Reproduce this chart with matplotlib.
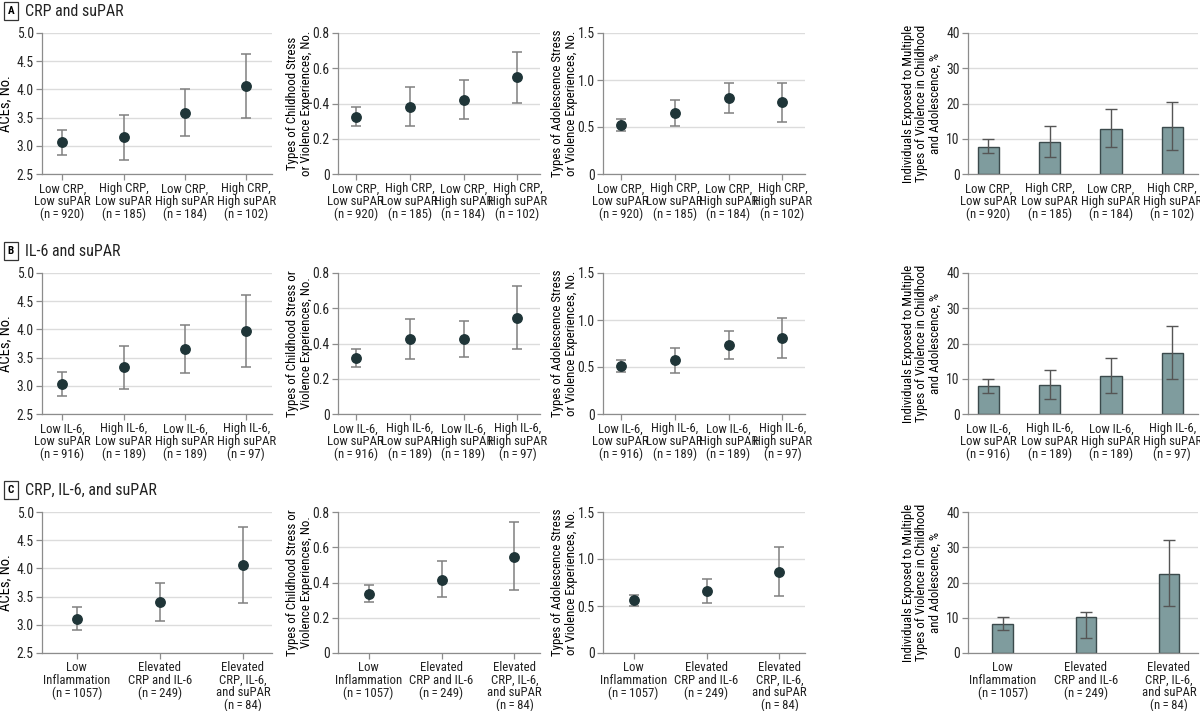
import matplotlib
matplotlib.use('Agg')
import matplotlib.pyplot as plt
from matplotlib import font_manager

# pick a narrow face if one is installed
names = {f.name for f in font_manager.fontManager.ttflist}
family = 'Liberation Sans'
for cand in ['Liberation Sans Narrow', 'DejaVu Sans Condensed', 'Roboto Condensed',
             'Open Sans Condensed', 'Noto Sans Condensed']:
    if cand in names:
        family = cand
        break
plt.rcParams['font.family'] = [family, 'DejaVu Sans']
NARROW = family != 'Liberation Sans'

# group labels
labels_a = ['Low CRP,\nLow suPAR\n(n\u2009=\u2009920)', 'High CRP,\nLow suPAR\n(n\u2009=\u2009185)',
            'Low CRP,\nHigh suPAR\n(n\u2009=\u2009184)', 'High CRP,\nHigh suPAR\n(n\u2009=\u2009102)']
labels_b = ['Low IL-6,\nLow suPAR\n(n\u2009=\u2009916)', 'High IL-6,\nLow suPAR\n(n\u2009=\u2009189)',
            'Low IL-6,\nHigh suPAR\n(n\u2009=\u2009189)', 'High IL-6,\nHigh suPAR\n(n\u2009=\u200997)']
labels_c = ['Low\nInflammation\n(n\u2009=\u20091057)', 'Elevated\nCRP and IL-6\n(n\u2009=\u2009249)',
            'Elevated\nCRP, IL-6,\nand suPAR\n(n\u2009=\u200984)']

# ACEs, No.
aces_a = [3.06, 3.15, 3.59, 4.06]
aces_a_lo = [2.84, 2.74, 3.17, 3.49]
aces_a_hi = [3.28, 3.55, 4.01, 4.62]
aces_b = [3.03, 3.33, 3.66, 3.97]
aces_b_lo = [2.82, 2.95, 3.22, 3.33]
aces_b_hi = [3.24, 3.71, 4.08, 4.61]
aces_c = [3.11, 3.40, 4.06]
aces_c_lo = [2.91, 3.06, 3.39]
aces_c_hi = [3.32, 3.74, 4.73]

# childhood stress types
child_a = [0.325, 0.382, 0.422, 0.548]
child_a_lo = [0.272, 0.272, 0.314, 0.403]
child_a_hi = [0.378, 0.494, 0.533, 0.694]
child_b = [0.318, 0.427, 0.427, 0.545]
child_b_lo = [0.269, 0.314, 0.323, 0.369]
child_b_hi = [0.367, 0.541, 0.530, 0.724]
child_c = [0.335, 0.416, 0.547]
child_c_lo = [0.289, 0.318, 0.356]
child_c_hi = [0.384, 0.520, 0.741]

# adolescence stress types
adol_a = [0.521, 0.652, 0.809, 0.766]
adol_a_lo = [0.457, 0.511, 0.649, 0.557]
adol_a_hi = [0.585, 0.787, 0.972, 0.972]
adol_b = [0.511, 0.574, 0.730, 0.809]
adol_b_lo = [0.450, 0.440, 0.589, 0.599]
adol_b_hi = [0.571, 0.706, 0.883, 1.025]
adol_c = [0.560, 0.663, 0.865]
adol_c_lo = [0.496, 0.532, 0.603]
adol_c_hi = [0.621, 0.791, 1.131]

# % exposed to multiple types of violence
viol_a = [7.75, 8.98, 12.86, 13.4]
viol_a_lo = [5.96, 4.73, 7.75, 6.9]
viol_a_hi = [9.93, 13.6, 18.3, 20.3]
viol_b = [7.94, 8.23, 10.8, 17.2]
viol_b_lo = [6.05, 4.16, 6.05, 10.0]
viol_b_hi = [10.0, 12.6, 16.0, 25.1]
viol_c = [8.32, 10.1, 22.5]
viol_c_lo = [6.62, 4.35, 13.2]
viol_c_hi = [10.3, 11.7, 32.1]

panel_titles = [('A', 'CRP and suPAR'), ('B', 'IL-6 and suPAR'), ('C', 'CRP, IL-6, and suPAR')]

DOT = '#1f3538'
ERR = '#808080'
BAR = '#7f9c9e'
BAR_EDGE = '#3b4a4c'
GRID = '#dcdcdc'
SPINE = '#8c8c8c'

XT_FS = 9.2 if NARROW else 8.3
YT_FS = 9.8 if NARROW else 8.8
LAB_FS = 9.3 if NARROW else 8.2

W, H = 1200, 711
col_x = [(42, 272), (338, 540), (603, 805), (968, 1198)]
row_y = [(33, 174), (273, 414), (512, 653)]
# y label position, in axes fraction
label_x = [-0.13, -0.125, -0.125, -0.115]

fig = plt.figure(figsize=(W / 100, H / 100), dpi=100)


def make_ax(r, c):
    x0, x1 = col_x[c]
    y0, y1 = row_y[r]
    ax = fig.add_axes([x0 / W, 1 - y1 / H, (x1 - x0) / W, (y1 - y0) / H])
    for s in ['top', 'right']:
        ax.spines[s].set_visible(False)
    for s in ['left', 'bottom']:
        ax.spines[s].set_color(SPINE)
        ax.spines[s].set_linewidth(0.9)
    ax.tick_params(axis='both', colors=SPINE, labelcolor='#222222',
                   length=4, width=0.9, pad=2)
    ax.tick_params(axis='x', labelsize=XT_FS)
    ax.tick_params(axis='y', labelsize=YT_FS)
    ax.yaxis.grid(True, color=GRID, linewidth=1.0)
    ax.set_axisbelow(True)
    return ax


def dot_plot(ax, labels, vals, lo, hi):
    n = len(labels)
    xs = list(range(n))
    yerr = [[v - l for v, l in zip(vals, lo)], [h - v for v, h in zip(vals, hi)]]
    ax.errorbar(xs, vals, yerr=yerr, fmt='none', ecolor=ERR, elinewidth=1.1,
                capsize=3.8, capthick=1.1, zorder=2)
    ax.plot(xs, vals, 'o', color=DOT, markersize=6.8, zorder=3)
    ax.set_xticks(xs)
    ax.set_xticklabels(labels, linespacing=0.95)
    if n == 4:
        ax.set_xlim(-0.33, 3.42)
    else:
        ax.set_xlim(-0.42, 2.35)


def bar_plot(ax, labels, vals, lo, hi):
    n = len(labels)
    xs = list(range(n))
    yerr = [[v - l for v, l in zip(vals, lo)], [h - v for v, h in zip(vals, hi)]]
    w = 0.35 if n == 4 else 0.25
    ax.bar(xs, vals, width=w, color=BAR, edgecolor=BAR_EDGE, linewidth=1.0, zorder=2)
    ax.errorbar(xs, vals, yerr=yerr, fmt='none', ecolor='#555555', elinewidth=1.0,
                capsize=4.5, capthick=1.0, zorder=3)
    ax.set_xticks(xs)
    ax.set_xticklabels(labels, linespacing=0.95)
    ax.tick_params(axis='x', length=0, pad=6)
    if n == 4:
        ax.set_xlim(-0.33, 3.42)
    else:
        ax.set_xlim(-0.42, 2.35)


all_labels = [labels_a, labels_b, labels_c]
aces = [(aces_a, aces_a_lo, aces_a_hi), (aces_b, aces_b_lo, aces_b_hi), (aces_c, aces_c_lo, aces_c_hi)]
child = [(child_a, child_a_lo, child_a_hi), (child_b, child_b_lo, child_b_hi), (child_c, child_c_lo, child_c_hi)]
adol = [(adol_a, adol_a_lo, adol_a_hi), (adol_b, adol_b_lo, adol_b_hi), (adol_c, adol_c_lo, adol_c_hi)]
viol = [(viol_a, viol_a_lo, viol_a_hi), (viol_b, viol_b_lo, viol_b_hi), (viol_c, viol_c_lo, viol_c_hi)]

child_ylabels = ['Types of Childhood Stress\nor Violence Experiences, No.',
                 'Types of Childhood Stress or\nViolence Experiences, No.',
                 'Types of Childhood Stress or\nViolence Experiences, No.']

for r in range(3):
    labels = all_labels[r]

    ax = make_ax(r, 0)
    dot_plot(ax, labels, *aces[r])
    ax.set_ylim(2.5, 5.0)
    ax.set_yticks([2.5, 3.0, 3.5, 4.0, 4.5, 5.0])
    ax.set_yticklabels(['2.5', '3.0', '3.5', '4.0', '4.5', '5.0'])
    ax.set_ylabel('ACEs, No.', fontsize=10.5)
    ax.yaxis.set_label_coords(label_x[0], 0.5)

    ax = make_ax(r, 1)
    dot_plot(ax, labels, *child[r])
    ax.set_ylim(0, 0.8)
    ax.set_yticks([0, 0.2, 0.4, 0.6, 0.8])
    ax.set_yticklabels(['0', '0.2', '0.4', '0.6', '0.8'])
    ax.set_ylabel(child_ylabels[r], fontsize=LAB_FS, linespacing=1.05)
    ax.yaxis.set_label_coords(label_x[1], 0.5)

    ax = make_ax(r, 2)
    dot_plot(ax, labels, *adol[r])
    ax.set_ylim(0, 1.5)
    ax.set_yticks([0, 0.5, 1.0, 1.5])
    ax.set_yticklabels(['0', '0.5', '1.0', '1.5'])
    ax.set_ylabel('Types of Adolescence Stress\nor Violence Experiences, No.',
                  fontsize=LAB_FS, linespacing=1.05)
    ax.yaxis.set_label_coords(label_x[2], 0.5)

    ax = make_ax(r, 3)
    bar_plot(ax, labels, *viol[r])
    ax.set_ylim(0, 40)
    ax.set_yticks([0, 10, 20, 30, 40])
    ax.set_ylabel('Individuals Exposed to Multiple\nTypes of Violence in Childhood\nand Adolescence, %',
                  fontsize=LAB_FS, linespacing=1.05)
    ax.yaxis.set_label_coords(label_x[3], 0.5)

# panel headers
header_y = [11, 251, 490]
for (letter, title), yy in zip(panel_titles, header_y):
    fig.text(11 / W, 1 - yy / H, letter, fontsize=8, fontweight='bold', ha='center', va='center',
             bbox=dict(boxstyle='square,pad=0.35', facecolor='white', edgecolor='#333333', linewidth=0.9))
    fig.text(25 / W, 1 - yy / H, title, fontsize=11.5, ha='left', va='center', color='#222222')

fig.savefig('out.png', dpi=100, facecolor='white')
